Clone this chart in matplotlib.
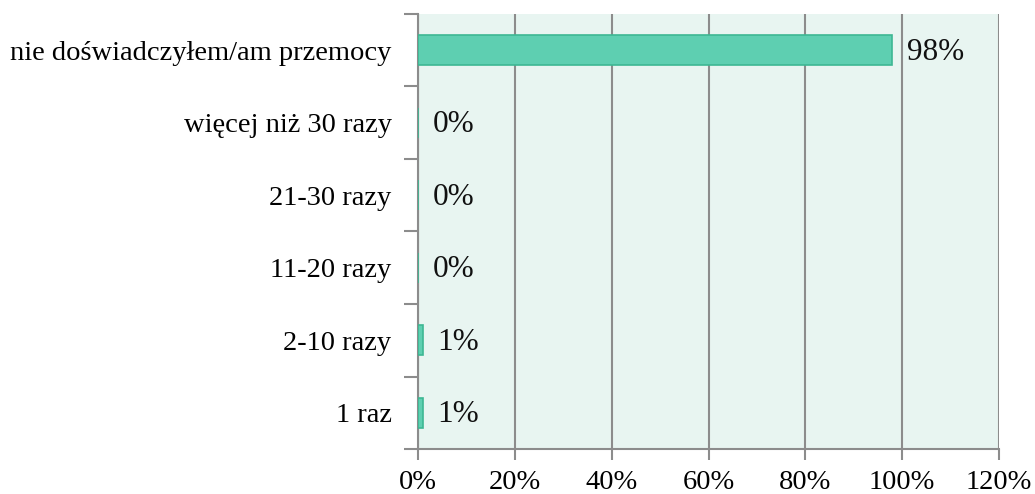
import matplotlib
matplotlib.use("Agg")
import matplotlib.pyplot as plt
import numpy as np

categories = ["1 raz", "2-10 razy", "11-20 razy", "21-30 razy", "więcej niż 30 razy", "nie doświadczyłem/am przemocy"]
values = [1, 1, 0, 0, 0, 98]
labels = ["1%", "1%", "0%", "0%", "0%", "98%"]
xticks = [0, 20, 40, 60, 80, 100, 120]
xticklabels = ["0%", "20%", "40%", "60%", "80%", "100%", "120%"]

plt.rcParams['font.family'] = ['Liberation Serif', 'DejaVu Serif']

fig = plt.figure(figsize=(10.35, 4.94), dpi=100)
ax = fig.add_axes([418/1035, 1-449/494, (999-418)/1035, (449-14)/494])
ax.set_facecolor("#E8F5F1")

y = np.arange(len(categories))
ax.barh(y, values, height=0.41, color="#5ECFB1", edgecolor="#3DB793", linewidth=1.2, zorder=3)
for yi, v, lab in zip(y, values, labels):
    ax.annotate(lab, xy=(v, yi), xytext=(10.5, -1.5), textcoords="offset points",
                va="center", ha="left", fontsize=22.5, color="#111111", zorder=4)

ax.set_xlim(0, 120)
ax.set_ylim(-0.5, len(categories) - 0.5)
ax.set_xticks(xticks)
ax.set_xticklabels(xticklabels, fontsize=20.5)
ax.set_yticks(y)
ax.set_yticklabels(categories, fontsize=20.5)
ax.set_yticks(np.arange(-0.5, len(categories), 1), minor=True)
ax.tick_params(axis='y', which='major', length=0, pad=19)
ax.tick_params(axis='y', which='minor', length=10, width=1.5, color="#8C8C8C")
ax.tick_params(axis='x', which='major', length=8, width=1.5, color="#8C8C8C", pad=7)
ax.xaxis.grid(True, color="#8C8C8C", linewidth=1.5, zorder=1)
ax.set_axisbelow(True)
for s in ["top", "right"]:
    ax.spines[s].set_visible(False)
for s in ["left", "bottom"]:
    ax.spines[s].set_color("#8C8C8C")
    ax.spines[s].set_linewidth(1.5)

fig.savefig("out.png", dpi=100)
